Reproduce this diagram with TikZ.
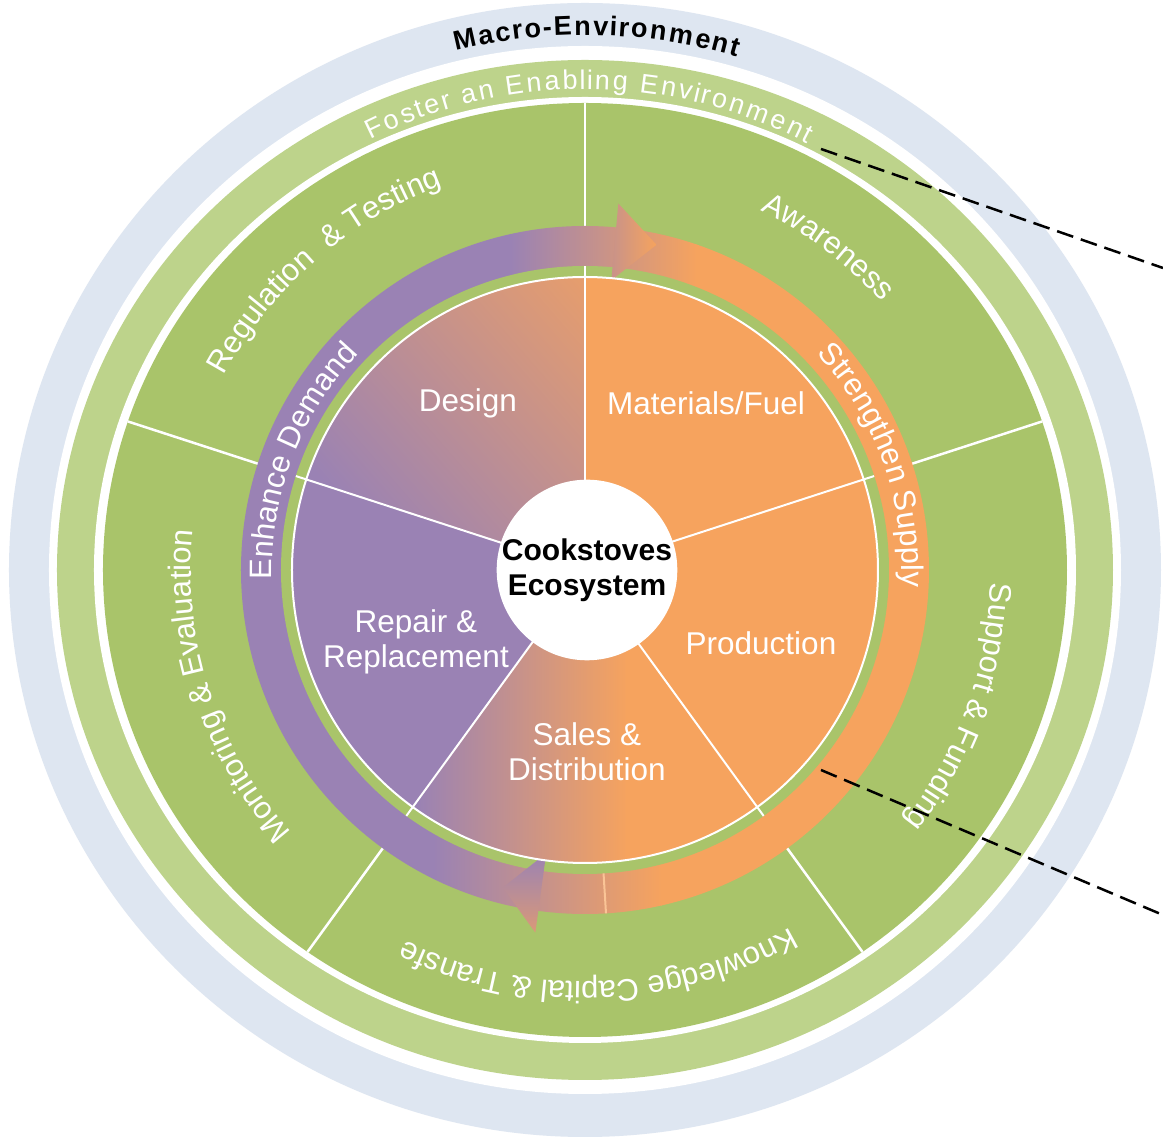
\documentclass[tikz,border=0pt]{standalone}
\usepackage{fontspec}
\setmainfont{Liberation Sans}
\newfontfamily\ringfont{Liberation Sans}
\usetikzlibrary{decorations.text}
\definecolor{cpurple}{RGB}{154,130,180}
\definecolor{corange}{RGB}{246,163,94}
\definecolor{cgreen}{RGB}{169,196,106}
\definecolor{clgreen}{RGB}{189,211,139}
\definecolor{cblue}{RGB}{222,230,241}
\definecolor{cseam}{RGB}{250,196,150}
\begin{document}
\begin{tikzpicture}[x=1pt,y=1pt,
  divider/.style={white, line width=2.5pt},
  innerdiv/.style={white, line width=2pt},
  sectorlabel/.style={text=white, font=\fontsize{31.5}{35}\selectfont, align=center, inner sep=0pt},
  ringtext/.style={decorate, decoration={text along path, text align=center, text color=white,
      text={|\ringfont\fontsize{31}{31}\selectfont|#1}}},
  dashline/.style={black, line width=2.5pt, dash pattern=on 17pt off 8pt}]
\useasboundingbox (-585,-569) rectangle (578,570);
\fill[white] (-585,-569) rectangle (578,570);
% outer rings
\fill[cblue] (0,0) ellipse[x radius=576, y radius=567];
\fill[white] (0,0) ellipse[x radius=536, y radius=524];
\fill[clgreen] (0,0) ellipse[x radius=528, y radius=510];
\fill[white] (0,0) ellipse[x radius=491, y radius=473];
\fill[cgreen] (0,0) ellipse[x radius=482, y radius=467];
\begin{scope}
  \clip (0,0) ellipse[x radius=482, y radius=467];
  \foreach \a in {90,18,-54,-126,162} \draw[divider] (0,0) -- (\a:600);
\end{scope}
% arrow band
\begin{scope}
  \clip (0,0) circle[radius=344];
  \fill[cpurple] (-350,-1) rectangle (-74,350);
  \shade[left color=cpurple, right color=corange] (-75,-1) rectangle (112,350);
  \fill[corange] (111,-1) rectangle (350,350);
  \fill[cpurple] (-350,-350) rectangle (-151,0);
  \shade[left color=cpurple, right color=corange] (-152,-350) rectangle (77,0);
  \fill[corange] (76,-350) rectangle (350,0);
\end{scope}
\fill[cgreen] (0,0) circle[radius=304];
\draw[cseam, line width=2pt] (-86.5:304) -- (-86.5:344);
% arrow heads
\shade[left color=corange!50!cpurple, right color=corange] (84.8:291) -- (84.8:368) -- (77.6:333) -- cycle;
\shade[top color=cpurple, bottom color=corange!70!cpurple] (-97.8:286) -- (-97.8:366) -- (-104.5:328) -- cycle;
% inner pie
\fill[corange] (0,0) -- (90:293) arc[start angle=90, end angle=-54, radius=293] -- cycle;
\fill[cpurple] (0,0) -- (162:293) arc[start angle=162, end angle=234, radius=293] -- cycle;
\begin{scope}
  \clip (0,0) -- (-54:293) arc[start angle=-54, end angle=-126, radius=293] -- cycle;
  \fill[cpurple] (-300,-300) rectangle (-166,1);
  \shade[left color=cpurple, right color=corange] (-168,-300) rectangle (43,1);
  \fill[corange] (41,-300) rectangle (300,1);
\end{scope}
\begin{scope}
  \clip (0,0) -- (90:293) arc[start angle=90, end angle=162, radius=293] -- cycle;
  \shade[top color=corange, bottom color=cpurple, shading angle=-49] (-290,-5) rectangle (110,395);
\end{scope}
\draw[white, line width=2pt] (0,0) circle[radius=293];
\foreach \a in {90,18,-54,-126,162} \draw[innerdiv] (0,0) -- (\a:304);
\node[circle, fill=white, minimum size=180pt, inner sep=0pt, align=center,
      font=\bfseries\fontsize{30}{35}\selectfont] (eco) at (2,0) {Cookstoves\\Ecosystem};
% sector labels
\node[sectorlabel] (design) at (-117,167) {Design};
\node[sectorlabel] (materials) at (121,167) {Materials/Fuel};
\node[sectorlabel] (production) at (176,-73) {Production};
\node[sectorlabel] (sales) at (2,-182) {Sales \&\\Distribution};
\node[sectorlabel] (repair) at (-169,-72) {Repair \&\\Replacement};
% band texts
\path[ringtext={Enhance Demand}] (190:313) arc[start angle=190, end angle=128, radius=313];
\path[ringtext={Strengthen Supply}] (52:317) arc[start angle=52, end angle=-12, radius=317];
% outer ring texts
\path[ringtext={Regulation {\ }{\&} Testing}] (161:410) arc[start angle=161, end angle=101, radius=410];
\path[ringtext={Awareness}] (83:400) arc[start angle=83, end angle=23, radius=400];
\path[ringtext={Support {\&} Funding}] (10:406) arc[start angle=10, end angle=-50, radius=406];
\path[ringtext={Knowledge Capital {\&} Transfe}] (-50:412) arc[start angle=-50, end angle=-126, radius=412];
\path[ringtext={Monitoring {\&} Evaluation}] (233:394) arc[start angle=233, end angle=163, radius=394];
\path[font=\fontsize{27}{27}\selectfont, decorate, decoration={text effects along path,
   text={Foster an Enabling Environment},
   text effects/.cd, text along path, fit text to path,
   characters={text=white, font=\fontsize{27}{27}\selectfont}}]
   (116.5:481) arc[start angle=116.5, end angle=62.5, radius=481];
\path[font=\bfseries\fontsize{27}{27}\selectfont, decorate, decoration={text effects along path,
   text={Macro-Environment},
   text effects/.cd, text along path, fit text to path,
   characters={text=black, font=\bfseries\fontsize{27}{27}\selectfont}}]
   (104:535) arc[start angle=104, end angle=73.5, radius=535];
% dashed connectors
\coordinate (dashA1) at (236,421);
\coordinate (dashA2) at (578,302);
\coordinate (dashB1) at (236,-200);
\coordinate (dashB2) at (578,-345);
\draw[dashline] (dashA1) -- (dashA2);
\draw[dashline] (dashB1) -- (dashB2);
\end{tikzpicture}
\end{document}
